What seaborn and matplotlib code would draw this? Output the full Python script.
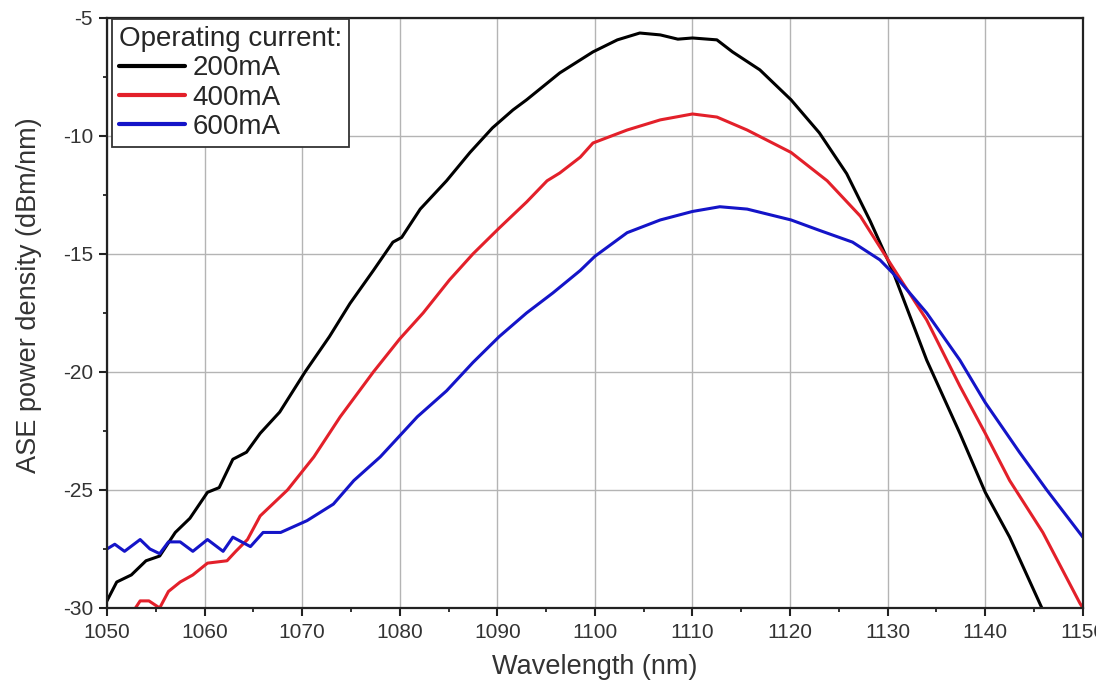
import numpy as np
import pandas as pd
import matplotlib
matplotlib.use("Agg")
import matplotlib.pyplot as plt
from matplotlib.ticker import MultipleLocator
import seaborn as sns

# ---- data ----
wl_200 = [1050.0, 1051.0, 1052.5, 1054.0, 1055.4, 1057.0, 1058.5, 1060.3, 1061.5, 1062.9,
          1064.3, 1065.7, 1067.7, 1070.3, 1072.8, 1074.9, 1077.3, 1079.3, 1080.2, 1082.1,
          1084.8, 1087.2, 1089.5, 1091.6, 1093.0, 1096.4, 1099.8, 1102.3, 1104.6, 1106.7,
          1108.5, 1110.0, 1112.5, 1114.1, 1116.9, 1120.1, 1123.0, 1125.8, 1128.2, 1130.5,
          1134.0, 1137.4, 1140.0, 1142.5, 1145.8, 1146.5]
p_200 = [-29.7, -28.9, -28.6, -28.0, -27.8, -26.8, -26.2, -25.1, -24.9, -23.7,
         -23.4, -22.6, -21.7, -20.0, -18.5, -17.1, -15.7, -14.5, -14.3, -13.1,
         -11.9, -10.7, -9.66, -8.9, -8.47, -7.33, -6.44, -5.93, -5.64, -5.72,
         -5.9, -5.85, -5.93, -6.44, -7.2, -8.47, -9.87, -11.6, -13.6, -15.7,
         -19.5, -22.6, -25.1, -27.0, -30.0, -30.5]

wl_400 = [1052.6, 1053.4, 1054.3, 1055.4, 1056.3, 1057.5, 1058.8, 1060.3, 1062.3, 1063.2,
          1064.4, 1065.7, 1068.5, 1071.2, 1073.9, 1077.3, 1080.0, 1082.4, 1085.1, 1087.5,
          1090.2, 1093.0, 1095.1, 1096.4, 1098.5, 1099.8, 1103.3, 1106.7, 1110.0, 1112.5,
          1115.6, 1120.1, 1123.8, 1127.2, 1130.5, 1134.0, 1137.4, 1140.0, 1142.5, 1145.9,
          1149.7, 1150.0]
p_400 = [-30.2, -29.7, -29.7, -30.0, -29.3, -28.9, -28.6, -28.1, -28.0, -27.6,
         -27.1, -26.1, -25.0, -23.6, -21.9, -20.0, -18.6, -17.5, -16.1, -15.0,
         -13.9, -12.8, -11.9, -11.57, -10.9, -10.3, -9.75, -9.32, -9.07, -9.2,
         -9.75, -10.7, -11.9, -13.4, -15.55, -17.8, -20.6, -22.6, -24.6, -26.8,
         -29.8, -30.0]

wl_600 = [1050.0, 1050.8, 1051.8, 1053.4, 1054.4, 1055.4, 1056.3, 1057.5, 1058.8, 1060.3,
          1061.9, 1062.9, 1064.7, 1066.0, 1067.8, 1070.5, 1073.2, 1075.3, 1078.0, 1081.8,
          1084.8, 1087.5, 1090.2, 1093.0, 1095.7, 1098.5, 1100.0, 1103.3, 1106.7, 1110.0,
          1112.8, 1115.6, 1120.1, 1123.0, 1126.4, 1129.2, 1130.5, 1134.0, 1137.4, 1140.0,
          1143.5, 1146.3, 1150.0]
p_600 = [-27.5, -27.3, -27.6, -27.1, -27.5, -27.7, -27.2, -27.2, -27.6, -27.1,
         -27.6, -27.0, -27.4, -26.8, -26.8, -26.3, -25.6, -24.6, -23.6, -21.9,
         -20.8, -19.6, -18.5, -17.5, -16.65, -15.7, -15.1, -14.1, -13.56, -13.2,
         -13.0, -13.1, -13.56, -14.0, -14.5, -15.25, -15.8, -17.5, -19.5, -21.3,
         -23.4, -25.0, -27.0]

series_labels = ["200mA", "400mA", "600mA"]
legend_title = "Operating current:"
x_label = "Wavelength (nm)"
y_label = "ASE power density (dBm/nm)"
x_ticks = [1050, 1060, 1070, 1080, 1090, 1100, 1110, 1120, 1130, 1140, 1150]
y_ticks = [-30, -25, -20, -15, -10, -5]

# ---- build long-form table ----
df = pd.concat([
    pd.DataFrame({"wl": wl_200, "p": p_200, "cur": series_labels[0]}),
    pd.DataFrame({"wl": wl_400, "p": p_400, "cur": series_labels[1]}),
    pd.DataFrame({"wl": wl_600, "p": p_600, "cur": series_labels[2]}),
], ignore_index=True)

sns.set_theme(style="whitegrid")
plt.rcParams["font.family"] = ["Liberation Sans", "DejaVu Sans"]

fig, ax = plt.subplots(figsize=(10.96, 6.89), dpi=100)
fig.subplots_adjust(left=0.0976, right=0.988, top=0.974, bottom=0.1176)

palette = {"200mA": "#000000", "400mA": "#e3202a", "600mA": "#1414c8"}
sns.lineplot(data=df, x="wl", y="p", hue="cur", palette=palette,
             estimator=None, sort=False, linewidth=2.2, ax=ax)

ax.set_xlim(1050, 1150)
ax.set_ylim(-30, -5)
ax.set_xticks(x_ticks)
ax.set_yticks(y_ticks)
ax.xaxis.set_minor_locator(MultipleLocator(5))
ax.yaxis.set_minor_locator(MultipleLocator(2.5))
ax.set_xticklabels([str(t) for t in x_ticks])
ax.set_yticklabels([str(t) for t in y_ticks])

ax.grid(True, which="major", color="#b4b4b4", linewidth=1.0)
ax.grid(False, which="minor")
ax.set_facecolor("white")
for s in ax.spines.values():
    s.set_color("#222222")
    s.set_linewidth(1.6)

ax.tick_params(axis="both", which="major", direction="out", length=5.5, width=1.5,
               colors="#222222", labelcolor="#333333", labelsize=15,
               bottom=True, left=True, top=False, right=False)
ax.tick_params(axis="x", which="major", pad=5.5)
ax.tick_params(axis="y", which="major", pad=4.5)
ax.tick_params(axis="both", which="minor", direction="out", length=3.2, width=1.3,
               colors="#222222", bottom=True, left=True, top=False, right=False)

ax.set_xlabel(x_label, fontsize=19.5, color="#333333")
ax.set_ylabel(y_label, fontsize=19.5, color="#333333")
ax.xaxis.set_label_coords(0.5, -0.078)
ax.yaxis.set_label_coords(-0.067, 0.53)

leg = ax.legend(title=legend_title, loc="upper left", bbox_to_anchor=(0.005, 0.998),
                borderaxespad=0, fontsize=20, title_fontsize=20, frameon=True,
                fancybox=False, framealpha=1, edgecolor="#333333",
                handlelength=2.4, handletextpad=0.25, labelspacing=0.12,
                borderpad=0.25)
leg.get_frame().set_linewidth(1.3)
leg._legend_box.align = "left"
for h in leg.get_lines():
    h.set_linewidth(3.0)

fig.savefig("out.png", dpi=100, facecolor="white")
